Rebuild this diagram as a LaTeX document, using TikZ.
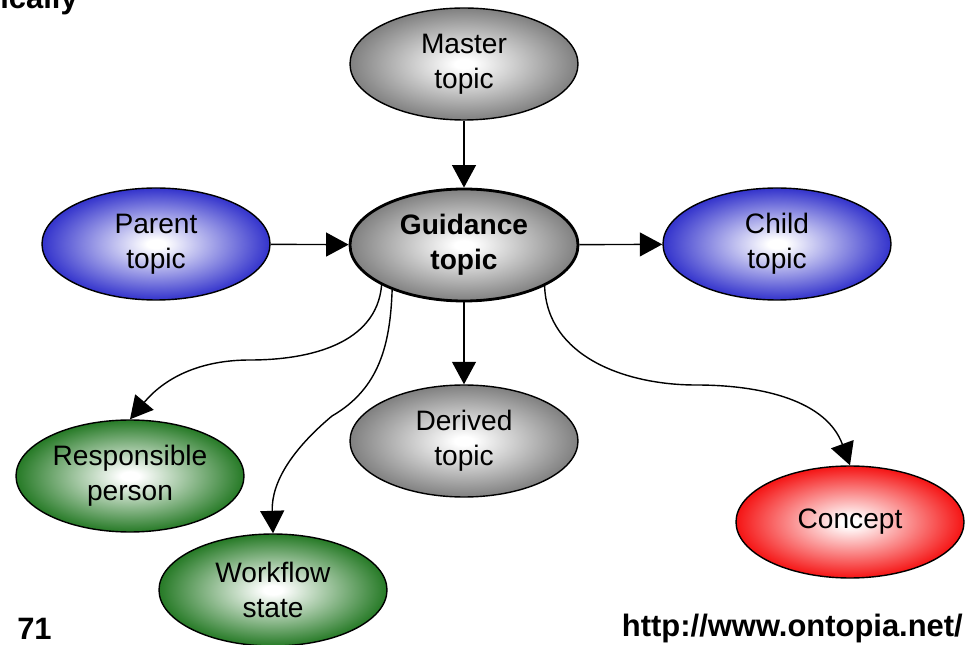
\documentclass[tikz,border=0pt]{standalone}
\usepackage{fontspec}
\setmainfont{Liberation Sans}
\usetikzlibrary{shapes.geometric,arrows.meta}
\definecolor{ovalgray}{RGB}{128,128,128}
\definecolor{ovalblue}{RGB}{51,51,204}
\definecolor{ovalgreen}{RGB}{38,122,38}
\definecolor{ovalred}{RGB}{245,20,20}
\colorlet{ovalcol}{ovalgray}
\pgfdeclareradialshading[ovalcol]{ovalfade}{\pgfpoint{0bp}{0bp}}{color(0bp)=(white); color(2bp)=(white); color(25bp)=(ovalcol); color(50bp)=(ovalcol)}
\begin{document}
\begin{tikzpicture}[
  oval/.style={ellipse, draw, line width=1pt, minimum width=5.7cm, minimum height=2.8cm,
    inner sep=0pt, align=center, font=\fontsize{20}{25}\selectfont, shading=ovalfade},
  grayoval/.style={oval, /utils/exec=\colorlet{ovalcol}{ovalgray}},
  blueoval/.style={oval, /utils/exec=\colorlet{ovalcol}{ovalblue}},
  greenoval/.style={oval, /utils/exec=\colorlet{ovalcol}{ovalgreen}},
  redoval/.style={oval, /utils/exec=\colorlet{ovalcol}{ovalred}},
  link/.style={line width=1pt, -{Triangle[length=16pt,width=17pt]}},
  slidetext/.style={inner sep=0pt, font=\fontsize{22}{26}\selectfont\bfseries}]
  \useasboundingbox (0,0) rectangle (24.125,16.1);
  \node[slidetext, anchor=base east] (title) at (1.95,15.875) {ically};
  \node[slidetext, anchor=base west] (pageno) at (0.425,0.12) {71};
  \node[slidetext, anchor=base east] (url) at (24.075,0.2) {http://www.ontopia.net/};
  \node[grayoval] (master) at (11.6,14.5) {Master\\topic};
  \node[grayoval, line width=2pt, font=\fontsize{20}{25}\selectfont\bfseries] (guide) at (11.6,9.975) {Guidance\\topic};
  \node[blueoval] (parent) at (3.9,10) {Parent\\topic};
  \node[blueoval] (child) at (19.425,10) {Child\\topic};
  \node[grayoval] (derived) at (11.6,5.075) {Derived\\topic};
  \node[greenoval] (resp) at (3.25,4.2) {Responsible\\person};
  \node[greenoval] (flow) at (6.825,1.35) {Workflow\\state};
  \node[redoval] (concept) at (21.25,3.05) {Concept};
  \draw[link] (master) -- (guide);
  \draw[link] (parent) -- (guide);
  \draw[link] (guide) -- (child);
  \draw[link] (guide) -- (derived);
  \draw[link] (guide.206) to[out=-95,in=0] (6.25,7.1) to[out=180,in=50] (resp.north);
  \draw[link] (guide.212) to[out=-92,in=30] (8.3,5.7) to[out=-140,in=92] (flow.north);
  \draw[link] (guide.-27) to[out=-88,in=180] (17.4,6.475) to[out=0,in=110] (concept.north);
\end{tikzpicture}
\end{document}
